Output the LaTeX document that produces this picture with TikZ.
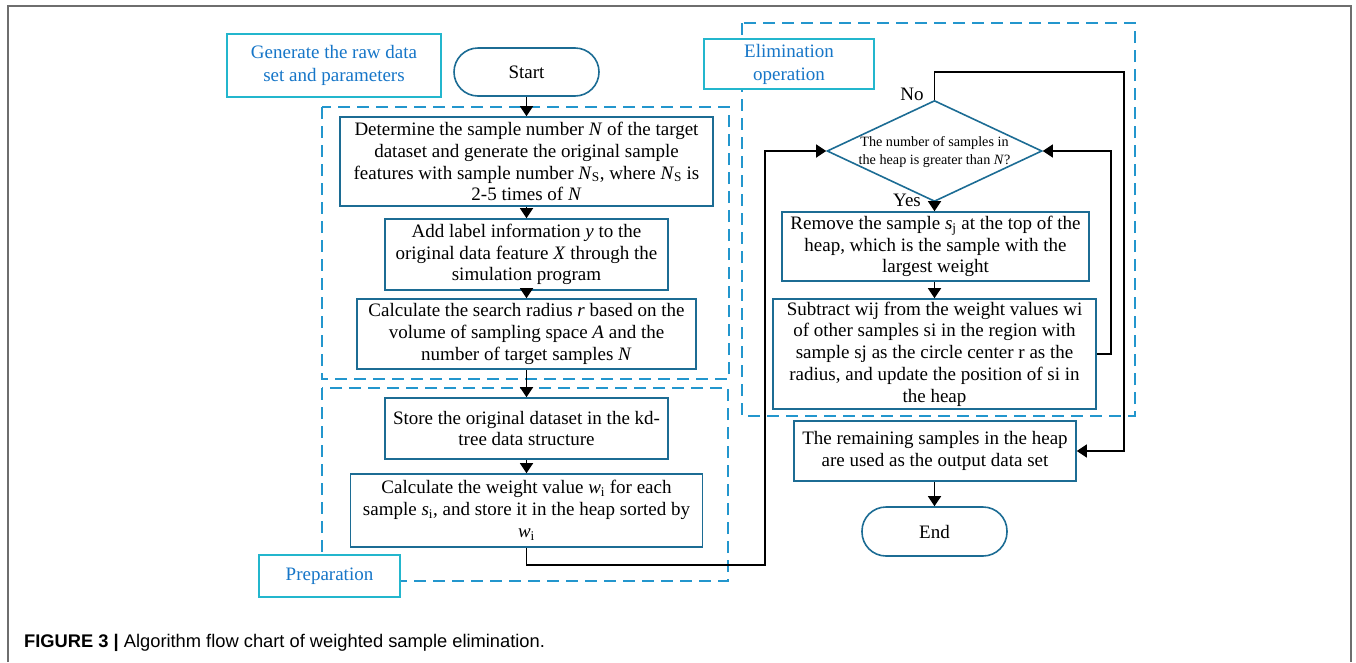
\documentclass[tikz,border=0pt]{standalone}
\usepackage{fontspec}
\setmainfont{Liberation Serif}
\setsansfont{Liberation Sans}
\usetikzlibrary{arrows.meta,shapes.geometric,calc}
\definecolor{boxcol}{RGB}{28,108,148}
\definecolor{dashcol}{RGB}{35,150,205}
\definecolor{lblborder}{RGB}{35,182,205}
\definecolor{lbltext}{RGB}{22,118,200}
\definecolor{framecol}{RGB}{110,110,110}
\tikzset{
  stepbox/.style={draw=boxcol, line width=1.6pt, rectangle, inner sep=0pt, align=center, fill=white,
    font=\fontsize{19pt}{21.8pt}\selectfont},
  termbox/.style={draw=boxcol, line width=1.6pt, rectangle, rounded corners=24pt, inner sep=0pt, align=center,
    font=\fontsize{19pt}{21.8pt}\selectfont},
  lblbox/.style={draw=lblborder, line width=1.6pt, rectangle, inner sep=0pt, align=center, fill=white,
    text=lbltext, font=\fontsize{19pt}{23pt}\selectfont},
  groupbox/.style={draw=dashcol, line width=1.6pt, dash pattern=on 12pt off 7pt},
  arr/.style={draw=black, line width=1.5pt, -{Triangle[length=10pt,width=13pt]}},
  plainlbl/.style={inner sep=0pt, font=\fontsize{19pt}{22pt}\selectfont},
}
\newcommand{\lowstack}[1]{\raisebox{-2pt}{\begin{tabular}{@{}c@{}}#1\end{tabular}}}
\begin{document}
\begin{tikzpicture}[x=1pt,y=-1pt]
\useasboundingbox (0,0) rectangle (1356,662);
% outer frame
\draw[framecol, line width=1.3pt] (8,662) -- (8,6) -- (1351,6) -- (1351,662);
% group dashed boxes
\draw[groupbox] (322,107) rectangle (729,379);
\draw[groupbox] (322,388) rectangle (728,581);
\draw[groupbox] (742,23) rectangle (1135,416);
% label boxes
\node[lblbox, minimum width=214pt, minimum height=63pt] (lgen) at (334,65.5) {\lowstack{Generate the raw data\\set and parameters}};
\node[lblbox, minimum width=170pt, minimum height=50pt] (lelim) at (789,64) {\lowstack{Elimination\\operation}};
\node[lblbox, minimum width=141pt, minimum height=42pt] (lprep) at (329.5,576) {Preparation};
% left column
\node[termbox, minimum width=145pt, minimum height=48pt] (start) at (526.5,72) {Start};
\node[stepbox, minimum width=373pt, minimum height=89pt] (A) at (526.5,161.5)
  {Determine the sample number \textit{N} of the target\\dataset and generate the original sample\\features with sample number \textit{N}\textsubscript{S}, where \textit{N}\textsubscript{S} is\\2-5 times of \textit{N}};
\node[stepbox, minimum width=283pt, minimum height=71pt] (B) at (526.5,254.5)
  {Add label information \textit{y} to the\\original data feature \textit{X} through the\\simulation program};
\node[stepbox, minimum width=339pt, minimum height=70pt] (C) at (526.5,334)
  {Calculate the search radius \textit{r} based on the\\volume of sampling space \textit{A} and the\\number of target samples \textit{N}};
\node[stepbox, minimum width=283pt, minimum height=61pt] (D) at (526.5,428.5)
  {Store the original dataset in the kd-\\tree data structure};
\node[stepbox, minimum width=352pt, minimum height=73pt] (E) at (526.5,510.5)
  {Calculate the weight value \textit{w}\textsubscript{i} for each\\sample \textit{s}\textsubscript{i}, and store it in the heap sorted by\\\textit{w}\textsubscript{i}};
% right column
\node[draw=boxcol, line width=1.6pt, diamond, inner sep=0pt, minimum width=215pt, minimum height=101pt] (dia) at (934.5,151) {};
\node[inner sep=0pt, align=center, font=\fontsize{14.2pt}{17.5pt}\selectfont] (diatext) at (934.5,152)
  {The number of samples in\\the heap is greater than \textit{N}?};
\node[stepbox, minimum width=307pt, minimum height=69pt] (F) at (935.5,246.5)
  {Remove the sample \textit{s}\textsubscript{j} at the top of the\\heap, which is the sample with the\\largest weight};
\node[stepbox, minimum width=323pt, minimum height=110pt] (G) at (934.5,354)
  {Subtract wij from the weight values wi\\of other samples si in the region with\\sample sj as the circle center r as the\\radius, and update the position of si in\\the heap};
\node[stepbox, minimum width=282pt, minimum height=60pt] (H) at (935,451)
  {The remaining samples in the heap\\are used as the output data set};
\node[termbox, minimum width=145pt, minimum height=49pt] (End) at (934.5,531.5) {End};
\node[plainlbl] (no) at (912,94) {No};
\node[plainlbl] (yes) at (907,200) {Yes};
% connectors
\draw[arr] (start) -- (A);
\draw[arr] (A) -- (B);
\draw[arr] (B) -- (C);
\draw[arr] (C) -- (D);
\draw[arr] (D) -- (E);
\coordinate (c1) at (765,565);
\draw[arr] (E.south) |- (c1) |- (dia.west);
\draw[arr] (dia.south) -- (dia.south |- F.north);
\draw[arr] (F.south -| G.north) -- (G.north);
\coordinate (g1) at (1111,354);
\draw[arr] (G.east |- g1) -- (g1) |- (dia.east);
\coordinate (n1) at (1124,72);
\draw[arr] (dia.north) |- (n1) |- (H.east);
\draw[arr] (H.south -| End.north) -- (End.north);
% caption
\node[anchor=base west, inner sep=0pt, font=\sffamily\fontsize{18.3pt}{21pt}\selectfont] (cap) at (24,647)
  {\textbf{FIGURE 3 |} Algorithm flow chart of weighted sample elimination.};
\end{tikzpicture}
\end{document}
